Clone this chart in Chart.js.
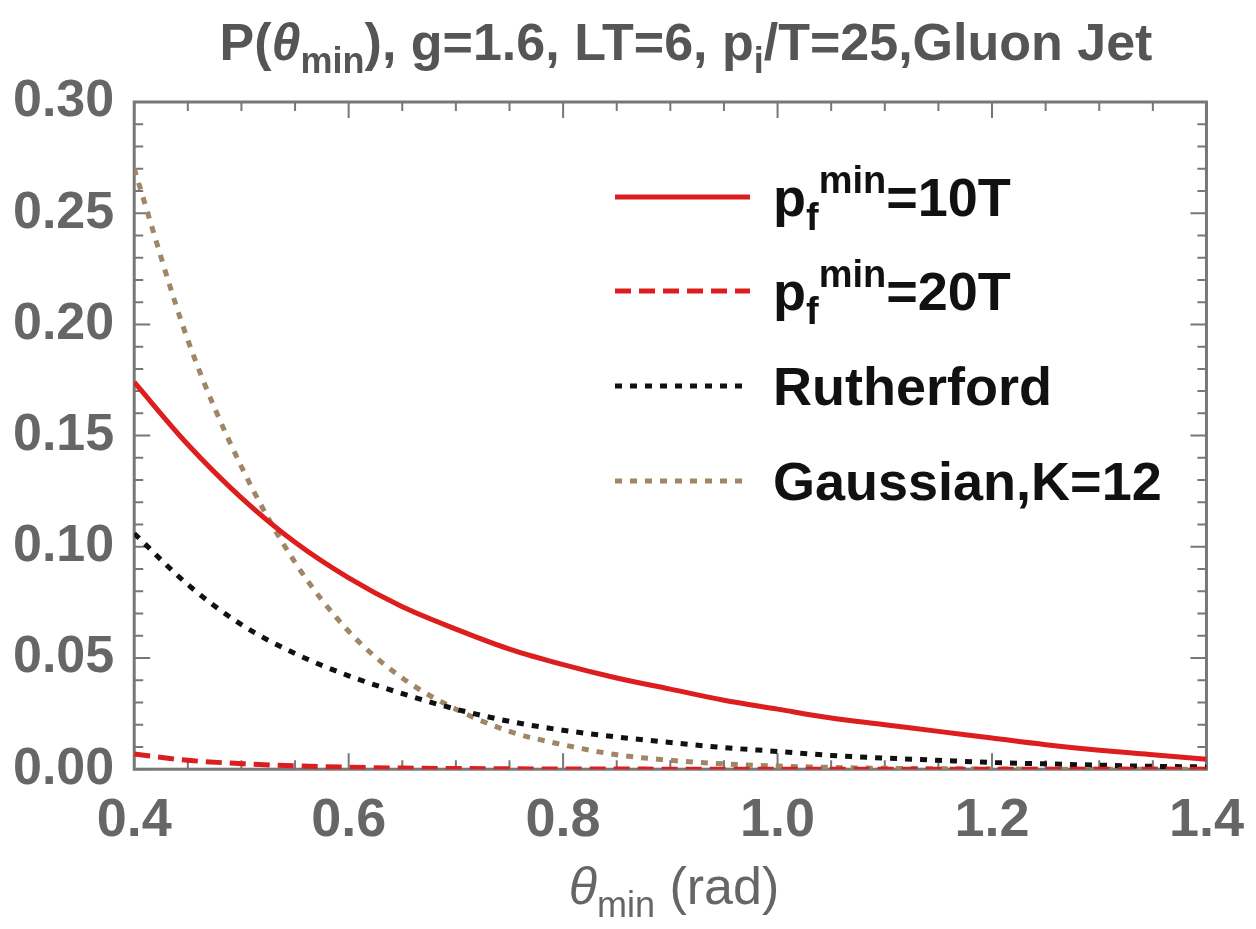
<!DOCTYPE html>
<html>
<head>
<meta charset="utf-8">
<script src="https://cdn.jsdelivr.net/npm/chart.js@4.4.1/dist/chart.umd.min.js"></script>
<style>
  html, body { margin: 0; padding: 0; background: #fff; }
  #wrap { width: 1256px; height: 929px; position: relative; }
</style>
</head>
<body>
<div id="wrap"><canvas id="chart"></canvas></div>
<script>
// --- data ---
const thetaMin = [0.40, 0.45, 0.50, 0.55, 0.60, 0.65, 0.70, 0.75, 0.80, 0.85, 0.90,
                  0.95, 1.00, 1.05, 1.10, 1.15, 1.20, 1.25, 1.30, 1.35, 1.40];
const pf10T = [0.174, 0.146, 0.122, 0.102, 0.086, 0.073, 0.063, 0.054, 0.047, 0.041, 0.036,
               0.031, 0.027, 0.023, 0.020, 0.017, 0.014, 0.011, 0.0085, 0.0065, 0.0045];
const pf20T = [0.0068, 0.0040, 0.0025, 0.0015, 0.0009, 0.0005, 0.0003, 0.0002, 0.0001, 0.0001, 0.0,
               0.0, 0.0, 0.0, 0.0, 0.0, 0.0, 0.0, 0.0, 0.0, 0.0];
const rutherford = [0.106, 0.083, 0.065, 0.052, 0.042, 0.034, 0.027, 0.0215, 0.0175, 0.0145, 0.012,
                    0.0097, 0.008, 0.0062, 0.005, 0.004, 0.003, 0.0024, 0.0018, 0.0013, 0.001];
const gaussianK12 = [0.270, 0.193, 0.136, 0.093, 0.062, 0.041, 0.027, 0.017, 0.011, 0.0065, 0.004,
                     0.0024, 0.0014, 0.0008, 0.0004, 0.0002, 0.0001, 0.0, 0.0, 0.0, 0.0];

const seriesLabels = ['p_{f}^{min}=10T', 'p_{f}^{min}=20T', 'Rutherford', 'Gaussian,K=12'];
const xTicksMajor = 0.2, xTicksMinor = 0.05;
const yTicksMajor = 0.05, yTicksMinor = 0.01;

const titleParts = [['P(', ''], ['θ', 'it'], ['min', 'sub'], ['), g=1.6, LT=6, p', ''], ['i', 'sub'], ['/T=25,Gluon Jet', '']];
const xTitleParts = [['θ', 'it'], ['min', 'sub'], [' (rad)', '']];

const FONT = '"Liberation Sans", Arial, sans-serif';
const GRAY = '#666666';
const FRAME = '#777777';

const toPoints = ys => thetaMin.map((x, i) => ({ x: x, y: ys[i] }));

// small markup parser: "p_{f}^{min}=10T"
function parseMarkup(str) {
  const out = [];
  const re = /([_^])\{([^}]*)\}|([^_^]+)/g;
  let m;
  while ((m = re.exec(str)) !== null) {
    if (m[3]) out.push([m[3], '']);
    else out.push([m[2], m[1] === '_' ? 'sub' : 'sup']);
  }
  return out;
}

function partFont(style, size, weight) {
  const s = (style === 'sub' || style === 'sup') ? Math.round(size * 0.7) : size;
  const it = style === 'it' ? 'italic ' : '';
  return it + weight + ' ' + s + 'px ' + FONT;
}

function drawRich(ctx, parts, x, y, size, weight, color, align) {
  ctx.save();
  ctx.fillStyle = color;
  ctx.textBaseline = 'alphabetic';
  ctx.textAlign = 'left';
  let total = 0;
  parts.forEach(p => { ctx.font = partFont(p[1], size, weight); total += ctx.measureText(p[0]).width; });
  let cx = align === 'center' ? x - total / 2 : x;
  parts.forEach(p => {
    ctx.font = partFont(p[1], size, weight);
    let dy = 0;
    if (p[1] === 'sub') dy = size * 0.25;
    if (p[1] === 'sup') dy = -size * 0.42;
    ctx.fillText(p[0], cx, y + dy);
    cx += ctx.measureText(p[0]).width;
  });
  ctx.restore();
}

// frame with inward ticks on all four sides
const framePlugin = {
  id: 'frameTicks',
  beforeDatasetsDraw(chart) {
    const { ctx, chartArea: a, scales } = chart;
    const xs = scales.x, ys = scales.y;
    ctx.save();
    ctx.strokeStyle = FRAME;
    ctx.lineWidth = 2;
    const eps = 1e-9;
    for (let v = xs.min; v <= xs.max + eps; v += xTicksMinor) {
      const px = xs.getPixelForValue(v);
      const major = Math.abs(v / xTicksMajor - Math.round(v / xTicksMajor)) < 1e-6;
      const len = major ? 16 : 9;
      ctx.beginPath();
      ctx.moveTo(px, a.bottom); ctx.lineTo(px, a.bottom - len);
      ctx.moveTo(px, a.top); ctx.lineTo(px, a.top + len);
      ctx.stroke();
    }
    for (let v = ys.min; v <= ys.max + eps; v += yTicksMinor) {
      const py = ys.getPixelForValue(v);
      const major = Math.abs(v / yTicksMajor - Math.round(v / yTicksMajor)) < 1e-6;
      const len = major ? 16 : 9;
      ctx.beginPath();
      ctx.moveTo(a.left, py); ctx.lineTo(a.left + len, py);
      ctx.moveTo(a.right, py); ctx.lineTo(a.right - len, py);
      ctx.stroke();
    }
    ctx.lineWidth = 3;
    ctx.strokeRect(a.left, a.top, a.right - a.left, a.bottom - a.top);
    ctx.restore();
  }
};

// title, axis title and legend with sub/superscripts
const textPlugin = {
  id: 'richText',
  afterDraw(chart) {
    const { ctx } = chart;
    drawRich(ctx, titleParts, 686, 60, 52, 'bold', '#555555', 'center');
    drawRich(ctx, xTitleParts, 674, 904, 52, 'normal', GRAY, 'center');

    const rowY = [197, 291, 386, 481];
    chart.data.datasets.forEach((ds, i) => {
      const y = rowY[i];
      ctx.save();
      ctx.strokeStyle = ds.borderColor;
      ctx.lineWidth = ds.borderWidth;
      ctx.setLineDash(ds.borderDash || []);
      ctx.beginPath();
      ctx.moveTo(615, y); ctx.lineTo(750, y);
      ctx.stroke();
      ctx.restore();
      drawRich(ctx, parseMarkup(ds.label), 773, y + 19, 54, 'bold', '#111111', 'left');
    });
  }
};

const ctx = document.getElementById('chart').getContext('2d');
new Chart(ctx, {
  type: 'line',
  data: {
    datasets: [
      { label: seriesLabels[0], data: toPoints(pf10T), borderColor: '#dc1e1e', borderWidth: 5 },
      { label: seriesLabels[1], data: toPoints(pf20T), borderColor: '#dc1e1e', borderWidth: 5, borderDash: [16, 8] },
      { label: seriesLabels[2], data: toPoints(rutherford), borderColor: '#111111', borderWidth: 5, borderDash: [7, 8] },
      { label: seriesLabels[3], data: toPoints(gaussianK12), borderColor: '#a08665', borderWidth: 5, borderDash: [7, 8] }
    ]
  },
  options: {
    responsive: true,
    maintainAspectRatio: false,
    animation: false,
    elements: {
      point: { radius: 0 },
      line: { cubicInterpolationMode: 'monotone', fill: false }
    },
    layout: { padding: { top: 102, left: 1, right: 32, bottom: 63 } },
    plugins: {
      legend: { display: false },
      title: { display: false },
      tooltip: { enabled: false }
    },
    scales: {
      x: {
        type: 'linear',
        min: 0.4,
        max: 1.4,
        grid: { display: false },
        border: { display: false },
        ticks: {
          stepSize: xTicksMajor,
          padding: 12,
          color: GRAY,
          font: { family: FONT, size: 54, weight: 'bold' },
          callback: v => v.toFixed(1)
        }
      },
      y: {
        min: 0,
        max: 0.3,
        grid: { display: false },
        border: { display: false },
        ticks: {
          stepSize: yTicksMajor,
          padding: 12,
          color: GRAY,
          font: { family: FONT, size: 52, weight: 'bold' },
          callback: v => v.toFixed(2)
        }
      }
    }
  },
  plugins: [framePlugin, textPlugin]
});
</script>
</body>
</html>
